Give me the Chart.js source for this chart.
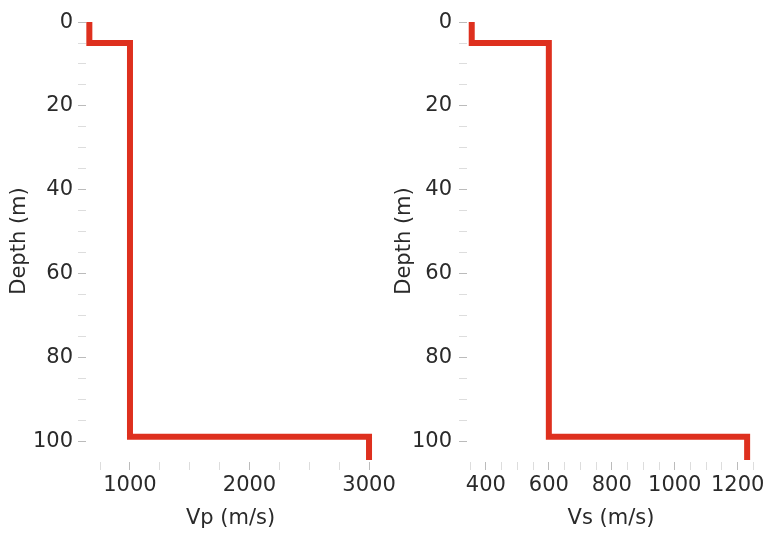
<!DOCTYPE html>
<html>
<head>
<meta charset="utf-8">
<script src="https://cdn.jsdelivr.net/npm/chart.js@4"></script>
<style>
  body { margin: 0; background: #fff; }
  #wrap { position: relative; width: 767px; height: 534px; }
  .box { position: absolute; top: 0; height: 534px; }
</style>
</head>
<body>
<div id="wrap">
  <div class="box" style="left:0;width:400px"><canvas id="vpChart"></canvas></div>
  <div class="box" style="left:384px;width:383px"><canvas id="vsChart"></canvas></div>
</div>
<script>
// layer model
const layerTop = [0, 5, 99];
const layerBottom = [5, 99, 104.5];
const vp = [660, 1000, 3000];
const vs = [355, 600, 1230];

const depthTicks = [0, 20, 40, 60, 80, 100];
const vpTicks = [1000, 2000, 3000];
const vsTicks = [400, 600, 800, 1000, 1200];

Chart.defaults.font.family = '"DejaVu Sans", Verdana, sans-serif';
Chart.defaults.font.size = 21;
Chart.defaults.color = '#2a2a2a';

function profile(vel){
  const pts = [];
  for(let i = 0; i < vel.length; i++){
    pts.push({x: vel[i], y: layerTop[i]});
    pts.push({x: vel[i], y: layerBottom[i]});
  }
  return pts;
}

function withMinor(major, step, lo, hi){
  const vals = [];
  for(let v = lo; v <= hi + 1e-9; v += step) vals.push(v);
  major.forEach(m => { if(!vals.includes(m)) vals.push(m); });
  return vals.sort((a, b) => a - b);
}

function makeChart(id, vel, xTitle, xMin, xMax, xMajor, xMinorStep, yWidth, yPad, padRight, yTitlePad){
  const xVals = withMinor(xMajor, xMinorStep, Math.ceil(xMin / xMinorStep) * xMinorStep, xMax);
  const yVals = withMinor(depthTicks, 5, 0, 104);
  return new Chart(document.getElementById(id), {
    type: 'scatter',
    data: {
      datasets: [{
        data: profile(vel),
        showLine: true,
        borderColor: 'rgb(222, 48, 30)',
        borderWidth: 6,
        borderJoinStyle: 'miter',
        borderCapStyle: 'butt',
        pointRadius: 0
      }]
    },
    options: {
      responsive: true,
      maintainAspectRatio: false,
      animation: false,
      layout: { padding: { top: 20, right: padRight, left: 0, bottom: 0 } },
      plugins: { legend: { display: false }, tooltip: { enabled: false } },
      scales: {
        x: {
          type: 'linear',
          min: xMin,
          max: xMax,
          border: { display: false },
          grid: { drawOnChartArea: false, drawTicks: true, tickLength: 8,
                  tickColor: ctx => xMajor.includes(ctx.tick.value) ? '#bbb' : '#ddd' },
          afterBuildTicks: s => { s.ticks = xVals.map(v => ({value: v})); },
          afterFit: s => { s.height = 72; s.paddingLeft = 0; s.paddingRight = 0; },
          ticks: { autoSkip: false, maxRotation: 0, padding: 3,
                   callback: v => xMajor.includes(v) ? String(v) : '' },
          title: { display: true, text: xTitle, padding: { top: 0, bottom: 3 } }
        },
        y: {
          type: 'linear',
          reverse: true,
          min: -0.5,
          max: 105,
          border: { display: false },
          grid: { drawOnChartArea: false, drawTicks: true, tickLength: 8,
                  tickColor: ctx => depthTicks.includes(ctx.tick.value) ? '#bbb' : '#ddd' },
          afterBuildTicks: s => { s.ticks = yVals.map(v => ({value: v})); },
          afterFit: s => { s.width = yWidth; s.paddingTop = 0; s.paddingBottom = 0; },
          ticks: { autoSkip: false, padding: yPad,
                   callback: v => depthTicks.includes(v) ? String(v) : '' },
          title: { display: true, text: 'Depth (m)', padding: { top: yTitlePad, bottom: 0 } }
        }
      }
    }
  });
}

// left canvas overlaps the right one a little so the "3000" label is not cut
makeChart('vpChart', vp, 'Vp (m/s)', 632, 3050, vpTicks, 250, 86, 5, 25, 7);
makeChart('vsChart', vs, 'Vs (m/s)', 340, 1255, vsTicks, 50, 83, 7, 12, 8);
</script>
</body>
</html>
